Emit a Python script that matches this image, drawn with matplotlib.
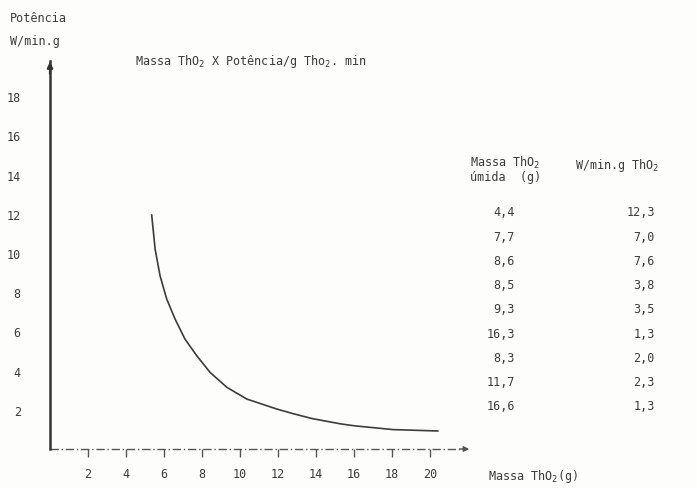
import matplotlib.pyplot as plt

plt.rcParams["font.family"] = ["DejaVu Sans Mono", "DejaVu Sans"]

# curve (massa ThO2, potência)
curve_x = [5.35, 5.53, 5.79, 6.14, 6.58, 7.1, 7.72, 8.42, 9.3, 10.35, 11.93, 12.8, 13.8, 15.3, 16.05, 18.05, 20.4]
curve_y = [11.94, 10.2, 8.84, 7.65, 6.63, 5.61, 4.76, 3.91, 3.15, 2.55, 2.04, 1.8, 1.55, 1.28, 1.18, 0.99, 0.92]

x_ticks = [2, 4, 6, 8, 10, 12, 14, 16, 18, 20]
y_ticks = [2, 4, 6, 8, 10, 12, 14, 16, 18]

# table at the right
massa_umida = [4.4, 7.7, 8.6, 8.5, 9.3, 16.3, 8.3, 11.7, 16.6]
potencia = [12.3, 7.0, 7.6, 3.8, 3.5, 1.3, 2.0, 2.3, 1.3]

W, H = 697, 489
INK = "#3c3c3c"
FS = 8.5


def fx(px):
    return px / W


def fy(py):
    return 1 - py / H


def br(v):
    return f"{v:.1f}".replace(".", ",")


fig = plt.figure(figsize=(W / 100, H / 100), dpi=100, facecolor="#fdfdfb")
x_max, y_max = 22.2, 19.8
ax = fig.add_axes([fx(50), fy(450), (472 - 50) / W, (450 - 62) / H])
ax.set_facecolor("none")
ax.set_xlim(0, x_max)
ax.set_ylim(0, y_max)

ax.plot(curve_x, curve_y, color=INK, lw=1.2)

# axes drawn like the original sheet
for s in ["top", "right", "bottom"]:
    ax.spines[s].set_visible(False)
ax.spines["left"].set_color("#333333")
ax.spines["left"].set_linewidth(1.8)
ax.plot([0, x_max - 0.4], [0, 0], color="#555555", lw=1.0, ls=(0, (6, 2, 1, 2)), clip_on=False)
ax.annotate("", xy=(x_max, 0), xytext=(x_max - 0.8, 0),
            arrowprops=dict(arrowstyle="-|>", color="#555555", lw=1.0, mutation_scale=8),
            annotation_clip=False)
ax.annotate("", xy=(0, y_max + 0.1), xytext=(0, y_max - 0.8),
            arrowprops=dict(arrowstyle="-|>", color="#333333", lw=1.6, mutation_scale=8),
            annotation_clip=False)

ax.set_xticks(x_ticks)
ax.set_xticklabels([str(v) for v in x_ticks], fontsize=FS, color=INK)
ax.tick_params(axis="x", direction="out", length=6, width=1.0, color="#555555", pad=7)
ax.set_yticks(y_ticks)
ax.set_yticklabels([str(v) for v in y_ticks], fontsize=FS, color=INK)
ax.tick_params(axis="y", length=0, pad=21)

# labels
fig.text(fx(10), fy(18), "Potência", fontsize=FS, color=INK, va="center")
fig.text(fx(10), fy(42), "W/min.g", fontsize=FS, color=INK, va="center")
fig.text(fx(135), fy(62), "Massa ThO$_2$ X Potência/g Tho$_2$. min", fontsize=FS, color=INK, va="center")
fig.text(fx(488), fy(477), "Massa ThO$_2$(g)", fontsize=FS, color=INK, va="center")

# table
fig.text(fx(470), fy(163), "Massa ThO$_2$", fontsize=FS, color=INK, va="center")
fig.text(fx(470), fy(178), "úmida  (g)", fontsize=FS, color=INK, va="center")
fig.text(fx(575), fy(165), "W/min.g ThO$_2$", fontsize=FS, color=INK, va="center")
row_y0, row_step = 213, 24.2
for i, (m, p) in enumerate(zip(massa_umida, potencia)):
    y = row_y0 + i * row_step
    fig.text(fx(515), fy(y), br(m), fontsize=FS, color=INK, ha="right", va="center")
    fig.text(fx(655), fy(y), br(p), fontsize=FS, color=INK, ha="right", va="center")

fig.savefig("out.png", dpi=100, facecolor=fig.get_facecolor())
